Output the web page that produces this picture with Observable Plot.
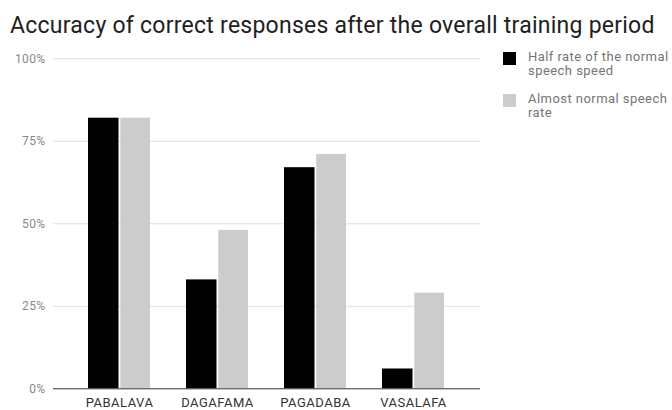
<!DOCTYPE html>
<html>
<head>
<meta charset="utf-8">
<script src="https://cdn.jsdelivr.net/npm/d3@7"></script>
<script src="https://cdn.jsdelivr.net/npm/@observablehq/plot@0.6"></script>
<style>
  body { margin: 0; background: #fff; font-family: Roboto, sans-serif; }
  #wrap { position: relative; width: 672px; height: 410px; overflow: hidden; }
  #title { box-sizing: border-box; height: 44px; padding: 12px 0 0 10px; font-size: 23px; letter-spacing: 0.25px; color: #212121; white-space: nowrap; }
  #legend { position: absolute; left: 503px; top: 50px; }
  .item { display: flex; align-items: flex-start; margin-bottom: 14.8px; }
  .sw { width: 13px; height: 13px; flex: none; margin-top: 2.3px; margin-right: 12px; }
  .lab { width: 144px; font-size: 13px; line-height: 13.6px; letter-spacing: 0.45px; color: #757575; }
  svg [aria-label^="y-axis"] text { fill: #888; font-size: 12px; letter-spacing: 0.4px; }
  svg [aria-label^="x-axis"] text { fill: #333; font-size: 13px; letter-spacing: 0.5px; }
</style>
</head>
<body>
<div id="wrap">
  <div id="title"></div>
  <div id="chart"></div>
  <div id="legend"></div>
</div>
<script>
const title = "Accuracy of correct responses after the overall training period";
const categories = ["PABALAVA", "DAGAFAMA", "PAGADABA", "VASALAFA"];
const seriesNames = ["Half rate of the normal speech speed", "Almost normal speech rate"];
const halfRate = [0.82, 0.33, 0.67, 0.06];
const almostNormal = [0.82, 0.48, 0.71, 0.29];
const yTicks = [0, 0.25, 0.5, 0.75, 1];
const colors = ["#000000", "#cccccc"];

const halfRows = categories.map((c, i) => ({category: c, value: halfRate[i]}));
const normalRows = categories.map((c, i) => ({category: c, value: almostNormal[i]}));

document.getElementById("title").textContent = title;

const chart = Plot.plot({
  width: 672,
  height: 366,
  marginLeft: 53,
  marginRight: 192,
  marginTop: 14.3,
  marginBottom: 21.7,
  style: {fontFamily: "Roboto, sans-serif", fontSize: "12px", background: "transparent"},
  x: {domain: categories, paddingInner: 0.365, paddingOuter: 0.355, label: null, tickSize: 0, tickPadding: 9},
  y: {domain: [0, 1], ticks: yTicks, tickFormat: d3.format(".0%"), tickSize: 0, tickPadding: 8, label: null},
  marks: [
    Plot.ruleY(yTicks.slice(1), {stroke: "#e0e0e0"}),
    // each group's band is split in two: first series on the left, second on the right
    Plot.barY(halfRows, {x: "category", y: "value", fill: colors[0], insetRight: 31.5}),
    Plot.barY(normalRows, {x: "category", y: "value", fill: colors[1], insetLeft: 32.3}),
    Plot.ruleY([0], {stroke: "#333"})
  ]
});
document.getElementById("chart").appendChild(chart);

const legend = document.getElementById("legend");
seriesNames.forEach((name, i) => {
  const item = document.createElement("div");
  item.className = "item";
  const sw = document.createElement("div");
  sw.className = "sw";
  sw.style.background = colors[i];
  const lab = document.createElement("div");
  lab.className = "lab";
  lab.textContent = name;
  item.appendChild(sw);
  item.appendChild(lab);
  legend.appendChild(item);
});
</script>
</body>
</html>
